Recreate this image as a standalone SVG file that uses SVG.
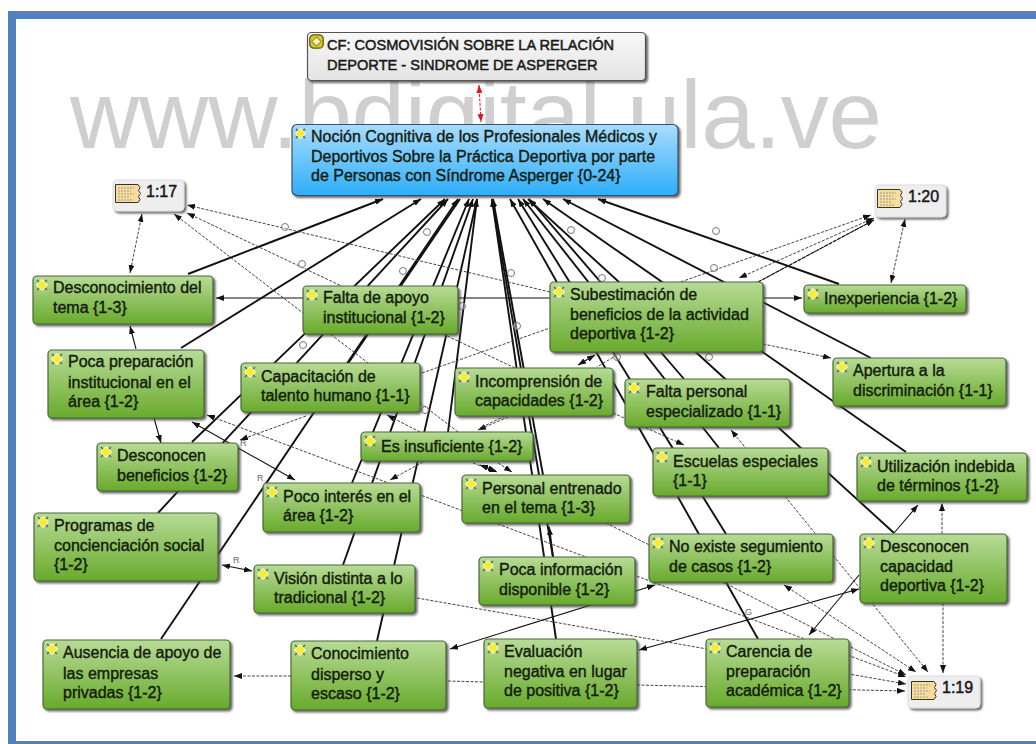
<svg xmlns="http://www.w3.org/2000/svg" width="1036" height="744" viewBox="0 0 1036 744">
<style>
text{font-family:"Liberation Sans",Arial,sans-serif}
.t{font-size:16px;fill:#141c10;stroke:#141c10;stroke-width:.4}
.cf{font-size:14.6px;fill:#1a1a1a;stroke:#1a1a1a;stroke-width:.5}
.nt{font-size:16px;fill:#1a1a1a;stroke:#1a1a1a;stroke-width:.5}
.wm{font-size:96px;fill:#cfcfcf}
.g{fill:url(#gg);stroke:#4a6838;stroke-width:1.2;filter:url(#sh)}
.w{fill:url(#wg);stroke:#555;stroke-width:1.2;filter:url(#sh)}
.n{fill:#eeeeee;stroke:#dddddd;stroke-width:1;filter:url(#sh)}
.b{fill:url(#bg);stroke:#3c5062;stroke-width:1.2;filter:url(#sh)}
.s{fill:none;stroke:#111;stroke-width:1.9}
.s2{fill:none;stroke:#111;stroke-width:1.1}
.d{fill:none;stroke:#444;stroke-width:1;stroke-dasharray:3 1.5}
.r{fill:none;stroke:#e0141c;stroke-width:1;stroke-dasharray:3 1.5}
.o{fill:#fff;fill-opacity:.35;stroke:#777;stroke-width:1}
.l{font-size:9px;fill:#666}
</style>
<defs>
<linearGradient id="gg" x1="0" y1="0" x2="0" y2="1"><stop offset="0" stop-color="#b8db96"/><stop offset="1" stop-color="#68aa2c"/></linearGradient>
<linearGradient id="wg" x1="0" y1="0" x2="0" y2="1"><stop offset="0" stop-color="#f7f7f7"/><stop offset="1" stop-color="#e4e4e4"/></linearGradient>
<linearGradient id="bg" x1="0" y1="0" x2="0" y2="1"><stop offset="0" stop-color="#a9dcff"/><stop offset="1" stop-color="#2eaef8"/></linearGradient>
<filter id="sh" x="-5%" y="-10%" width="112%" height="125%"><feDropShadow dx="2" dy="2" stdDeviation="1" flood-color="#444" flood-opacity=".8"/></filter>
<marker id="a" viewBox="0 0 8 6" refX="8" refY="3" markerWidth="8" markerHeight="6" markerUnits="userSpaceOnUse" orient="auto-start-reverse"><path d="M0 0L8 3L0 6Z" fill="#111"/></marker>
<marker id="ar" viewBox="0 0 8 6" refX="8" refY="3" markerWidth="8" markerHeight="6" markerUnits="userSpaceOnUse" orient="auto-start-reverse"><path d="M0 0L8 3L0 6Z" fill="#e0141c"/></marker>
<symbol id="ic" viewBox="0 0 14 14" overflow="visible"><path d="M2 2L12 12M12 2L2 12" stroke="#6a6a50" stroke-width="1.6"/><path d="M7 1.500L12.500 7L7 12.500L1.500 7Z" fill="#f6ee2c" stroke="#fff" stroke-width="1"/></symbol>
<symbol id="icf" viewBox="0 0 15 15"><rect x=".8" y=".8" width="13.400" height="13.400" rx="4" fill="#d8c820" stroke="#5a5a20" stroke-width="1.300"/><path d="M7.500 3L12 7.500L7.500 12L3 7.500Z" fill="#fff8a0" stroke="#444" stroke-width=".8"/></symbol>
<symbol id="nt" viewBox="0 0 26 19"><path d="M.5 .5H23L25 3.500L23.500 6.500L25.500 9.500L23.500 12.500L25 15.500L23 18.500H.5Z" fill="#f8dc9c" stroke="#333"/><path d="M3 4h16M3 7h13M3 10h16M3 13h12M3 16h15" stroke="#999" stroke-dasharray="2 1"/></symbol>
</defs>
<rect width="1036" height="744" fill="#fff"/>
<path d="M8 744V11H1036V19H16V741H1036V744Z" fill="#4f81bd"/>
<text class="wm" x="70" y="148" textLength="812">www.bdigital.ula.ve</text>
<g id="connectors">
<path class="s" marker-end="url(#a)" d="M188 274L383 199"/>
<path class="s" marker-end="url(#a)" d="M181 348L421 199"/>
<path class="s" marker-end="url(#a)" d="M192 442L445 199"/>
<path class="s" marker-end="url(#a)" d="M158 513L448 199"/>
<path class="s" marker-end="url(#a)" d="M161 639L458 199"/>
<path class="s" d="M315 412L460 199"/>
<path class="s" marker-end="url(#a)" d="M352 483L469 199"/>
<path class="s" marker-end="url(#a)" d="M343 565L473 199"/>
<path class="s" marker-end="url(#a)" d="M377 641L477 199"/>
<path class="s" marker-end="url(#a)" d="M448 432L477 199"/>
<path class="s" marker-end="url(#a)" d="M556 639L492 199"/>
<path class="s" marker-end="url(#a)" d="M553 557L492 199"/>
<path class="s" marker-end="url(#a)" d="M543 475L493 199"/>
<path class="s" marker-end="url(#a)" d="M758 639L510 199"/>
<path class="s" marker-end="url(#a)" d="M726 534L518 199"/>
<path class="s" marker-end="url(#a)" d="M719 448L523 199"/>
<path class="s" marker-end="url(#a)" d="M684 379L529 199"/>
<path class="s" marker-end="url(#a)" d="M894 533L528 199"/>
<path class="s" marker-end="url(#a)" d="M906 452L543 199"/>
<path class="s" marker-end="url(#a)" d="M871 358L563 199"/>
<path class="s" marker-end="url(#a)" d="M839 284L598 199"/>
<path class="s" marker-end="url(#a)" d="M553 557L549 527"/>
<path class="s2" marker-end="url(#a)" d="M136 349L130 326"/>
<path class="s2" marker-end="url(#a)" d="M154 418L161 443"/>
<path class="s2" marker-end="url(#a)" d="M550 298H216"/>
<path class="s2" marker-end="url(#a)" d="M763 298H802"/>
<path class="s2" marker-start="url(#a)" marker-end="url(#a)" d="M192 422L295 480"/>
<path class="s2" marker-end="url(#a)" d="M894 533L918 505"/>
<path class="s2" marker-end="url(#a)" d="M859 575L809 635"/>
<path class="s2" marker-start="url(#a)" marker-end="url(#a)" d="M859 589L639 650"/>
<path class="s2" marker-start="url(#a)" marker-end="url(#a)" d="M450 649L655 585"/>
<path class="s2" marker-start="url(#a)" marker-end="url(#a)" d="M222 565L252 571"/>
<path class="d" marker-end="url(#a)" d="M550 292L187 205"/>
<path class="d" marker-end="url(#a)" d="M515 368L187 213"/>
<path class="d" marker-end="url(#a)" d="M458 432L174 214"/>
<path class="d" marker-end="url(#a)" d="M420 432L387 415"/>
<path class="d" marker-end="url(#a)" d="M423 462L390 480"/>
<path class="d" marker-end="url(#a)" d="M306 416L240 440"/>
<path class="d" marker-start="url(#a)" marker-end="url(#a)" d="M207 415L906 677"/>
<path class="d" marker-end="url(#a)" d="M606 523L906 675"/>
<path class="d" marker-start="url(#a)" marker-end="url(#a)" d="M784 585L916 672"/>
<path class="d" marker-start="url(#a)" marker-end="url(#a)" d="M731 430L928 672"/>
<path class="d" marker-end="url(#a)" d="M943 603V673"/>
<path class="d" marker-end="url(#a)" d="M942 534V503"/>
<path class="d" marker-end="url(#a)" d="M417 598L906 684"/>
<path class="d" marker-end="url(#a)" d="M637 685L905 691"/>
<path class="d" d="M448 681L484 682"/>
<path class="d" marker-end="url(#a)" d="M291 676H234"/>
<path class="d" marker-end="url(#a)" d="M422 373L871 215"/>
<path class="d" marker-start="url(#a)" marker-end="url(#a)" d="M874 218L739 278"/>
<path class="d" marker-end="url(#a)" d="M758 282L874 220"/>
<path class="s2" d="M758 282L874 220" stroke-dasharray="4 1"/>
<path class="d" marker-start="url(#a)" marker-end="url(#a)" d="M905 219L891 283"/>
<path class="d" marker-start="url(#a)" marker-end="url(#a)" d="M142 214L130 273"/>
<path class="d" marker-end="url(#a)" d="M763 344L831 358"/>
<path class="d" marker-end="url(#a)" d="M508 417L478 430"/>
<path class="d" d="M505 416L480 428"/>
<path class="d" marker-end="url(#a)" d="M473 463L497 472"/>
<path class="d" marker-end="url(#a)" d="M498 463L512 472"/>
<path class="s2" marker-start="url(#a)" marker-end="url(#a)" d="M480 465L496 471"/>
<path class="s2" marker-start="url(#a)" marker-end="url(#a)" d="M595 355L578 365"/>
<path class="d" d="M617 355L597 367"/>
<path class="d" marker-end="url(#a)" d="M613 413L684 445"/>
<path class="r" marker-start="url(#ar)" marker-end="url(#ar)" d="M479 85L481 122"/>
<circle class="o" cx="285" cy="227" r="3.500"/><circle class="o" cx="302" cy="264" r="3.500"/><circle class="o" cx="427" cy="232" r="3.500"/><circle class="o" cx="403" cy="271" r="3.500"/><circle class="o" cx="462" cy="306" r="3.500"/><circle class="o" cx="511" cy="273" r="3.500"/><circle class="o" cx="517" cy="326" r="3.500"/><circle class="o" cx="571" cy="230" r="3.500"/><circle class="o" cx="602" cy="278" r="3.500"/><circle class="o" cx="716" cy="231" r="3.500"/><circle class="o" cx="714" cy="268" r="3.500"/><circle class="o" cx="617" cy="357" r="3.500"/><circle class="o" cx="709" cy="357" r="3.500"/><circle class="o" cx="425" cy="410" r="3.500"/><circle class="o" cx="303" cy="345" r="3.500"/>
<text class="l" x="240" y="446">R</text><text class="l" x="257" y="481">R</text><text class="l" x="233" y="563">R</text><text class="l" x="745" y="615">G</text>
</g>
<g id="n-cf"><rect class="w" x="307.500" y="32.500" width="338" height="48" rx="4"/><use href="#icf" x="309" y="34" width="15" height="15"/><text class="cf" x="327" y="50">CF: COSMOVISIÓN SOBRE LA RELACIÓN</text><text class="cf" x="327" y="70">DEPORTE - SINDROME DE ASPERGER</text></g>
<g id="n-root"><rect class="b" x="292" y="124.500" width="386" height="71" rx="5"/><use href="#ic" x="294" y="127" width="13" height="13"/><text class="t" x="311" y="142">Noción Cognitiva de los Profesionales Médicos y</text><text class="t" x="311" y="162">Deportivos Sobre la Práctica Deportiva por parte</text><text class="t" x="311" y="181">de Personas con Síndrome Asperger {0-24}</text></g>
<g id="n-117"><rect class="n" x="113" y="180" width="71" height="31" rx="4"/><use href="#nt" x="115" y="184" width="26" height="19"/><text class="nt" x="146" y="197">1:17</text></g>
<g id="n-120"><rect class="n" x="875" y="185" width="71" height="32" rx="4"/><use href="#nt" x="877" y="189" width="26" height="19"/><text class="nt" x="908" y="202">1:20</text></g>
<g id="n-119"><rect class="n" x="908" y="676" width="72" height="32" rx="4"/><use href="#nt" x="911" y="681" width="26" height="19"/><text class="nt" x="942" y="693">1:19</text></g>
<g id="n-desconocimiento"><rect class="g" x="33" y="276" width="180" height="48" rx="4"/><use href="#ic" x="35" y="278" width="14" height="14"/><text class="t" x="53" y="293">Desconocimiento del</text><text class="t" x="53" y="313">tema {1-3}</text></g>
<g id="n-falta-apoyo"><rect class="g" x="303" y="286" width="155" height="48" rx="4"/><use href="#ic" x="305" y="288" width="14" height="14"/><text class="t" x="323" y="303">Falta de apoyo</text><text class="t" x="323" y="323">institucional {1-2}</text></g>
<g id="n-subestimacion"><rect class="g" x="550" y="282" width="213" height="70" rx="4"/><use href="#ic" x="552" y="285" width="14" height="14"/><text class="t" x="570" y="300">Subestimación de</text><text class="t" x="570" y="320">beneficios de la actividad</text><text class="t" x="570" y="339">deportiva {1-2}</text></g>
<g id="n-inexperiencia"><rect class="g" x="804" y="285" width="162" height="28" rx="4"/><use href="#ic" x="806" y="287" width="14" height="14"/><text class="t" x="824" y="304">Inexperiencia {1-2}</text></g>
<g id="n-apertura"><rect class="g" x="833" y="358" width="173" height="48" rx="4"/><use href="#ic" x="835" y="360" width="14" height="14"/><text class="t" x="853" y="376">Apertura a la</text><text class="t" x="853" y="396">discriminación {1-1}</text></g>
<g id="n-poca-prep"><rect class="g" x="48" y="350" width="156" height="68" rx="4"/><use href="#ic" x="50" y="352" width="14" height="14"/><text class="t" x="68" y="367">Poca preparación</text><text class="t" x="68" y="388">institucional en el</text><text class="t" x="68" y="407">área {1-2}</text></g>
<g id="n-capacitacion"><rect class="g" x="241" y="363" width="179" height="49" rx="4"/><use href="#ic" x="243" y="365" width="14" height="14"/><text class="t" x="261" y="382">Capacitación de</text><text class="t" x="261" y="401">talento humano {1-1}</text></g>
<g id="n-incomprension"><rect class="g" x="455" y="368" width="158" height="48" rx="4"/><use href="#ic" x="457" y="370" width="14" height="14"/><text class="t" x="475" y="387">Incomprensión de</text><text class="t" x="475" y="406">capacidades {1-2}</text></g>
<g id="n-falta-personal"><rect class="g" x="625" y="379" width="165" height="48" rx="4"/><use href="#ic" x="627" y="381" width="14" height="14"/><text class="t" x="646" y="397">Falta personal</text><text class="t" x="646" y="417">especializado {1-1}</text></g>
<g id="n-insuficiente"><rect class="g" x="361" y="432" width="172" height="29" rx="4"/><use href="#ic" x="363" y="434" width="14" height="14"/><text class="t" x="381" y="452">Es insuficiente {1-2}</text></g>
<g id="n-desc-benef"><rect class="g" x="97" y="443" width="141" height="48" rx="4"/><use href="#ic" x="99" y="445" width="14" height="14"/><text class="t" x="117" y="461">Desconocen</text><text class="t" x="117" y="481">beneficios {1-2}</text></g>
<g id="n-escuelas"><rect class="g" x="653" y="448" width="175" height="48" rx="4"/><use href="#ic" x="655" y="450" width="14" height="14"/><text class="t" x="673" y="467">Escuelas especiales</text><text class="t" x="673" y="486">{1-1}</text></g>
<g id="n-utilizacion"><rect class="g" x="857" y="453" width="170" height="48" rx="4"/><use href="#ic" x="859" y="455" width="14" height="14"/><text class="t" x="877" y="472">Utilización indebida</text><text class="t" x="877" y="491">de términos {1-2}</text></g>
<g id="n-poco-interes"><rect class="g" x="263" y="483" width="157" height="49" rx="4"/><use href="#ic" x="265" y="485" width="14" height="14"/><text class="t" x="283" y="502">Poco interés en el</text><text class="t" x="283" y="521">área {1-2}</text></g>
<g id="n-personal"><rect class="g" x="462" y="475" width="168" height="48" rx="4"/><use href="#ic" x="464" y="477" width="14" height="14"/><text class="t" x="482" y="494">Personal entrenado</text><text class="t" x="482" y="513">en el tema {1-3}</text></g>
<g id="n-programas"><rect class="g" x="34" y="513" width="184" height="68" rx="4"/><use href="#ic" x="36" y="515" width="14" height="14"/><text class="t" x="54" y="531">Programas de</text><text class="t" x="54" y="551">concienciación social</text><text class="t" x="54" y="570">{1-2}</text></g>
<g id="n-vision"><rect class="g" x="254" y="565" width="161" height="48" rx="4"/><use href="#ic" x="256" y="567" width="14" height="14"/><text class="t" x="274" y="584">Visión distinta a lo</text><text class="t" x="274" y="603">tradicional {1-2}</text></g>
<g id="n-poca-info"><rect class="g" x="479" y="557" width="156" height="48" rx="4"/><use href="#ic" x="481" y="559" width="14" height="14"/><text class="t" x="499" y="575">Poca información</text><text class="t" x="499" y="595">disponible {1-2}</text></g>
<g id="n-no-existe"><rect class="g" x="649" y="534" width="184" height="48" rx="4"/><use href="#ic" x="651" y="536" width="14" height="14"/><text class="t" x="669" y="552">No existe segumiento</text><text class="t" x="669" y="572">de casos {1-2}</text></g>
<g id="n-desc-cap"><rect class="g" x="860" y="534" width="147" height="69" rx="4"/><use href="#ic" x="862" y="536" width="14" height="14"/><text class="t" x="880" y="552">Desconocen</text><text class="t" x="880" y="572">capacidad</text><text class="t" x="880" y="591">deportiva {1-2}</text></g>
<g id="n-ausencia"><rect class="g" x="43" y="640" width="187" height="69" rx="4"/><use href="#ic" x="45" y="642" width="14" height="14"/><text class="t" x="63" y="658">Ausencia de apoyo de</text><text class="t" x="63" y="679">las empresas</text><text class="t" x="63" y="698">privadas {1-2}</text></g>
<g id="n-conocimiento"><rect class="g" x="291" y="641" width="155" height="69" rx="4"/><use href="#ic" x="293" y="643" width="14" height="14"/><text class="t" x="311" y="659">Conocimiento</text><text class="t" x="311" y="680">disperso y</text><text class="t" x="311" y="699">escaso {1-2}</text></g>
<g id="n-evaluacion"><rect class="g" x="484" y="639" width="153" height="69" rx="4"/><use href="#ic" x="486" y="641" width="14" height="14"/><text class="t" x="504" y="657">Evaluación</text><text class="t" x="504" y="677">negativa en lugar</text><text class="t" x="504" y="696">de positiva {1-2}</text></g>
<g id="n-carencia"><rect class="g" x="706" y="639" width="143" height="68" rx="4"/><use href="#ic" x="708" y="641" width="14" height="14"/><text class="t" x="726" y="657">Carencia de</text><text class="t" x="726" y="677">preparación</text><text class="t" x="726" y="696">académica {1-2}</text></g>
</svg>
